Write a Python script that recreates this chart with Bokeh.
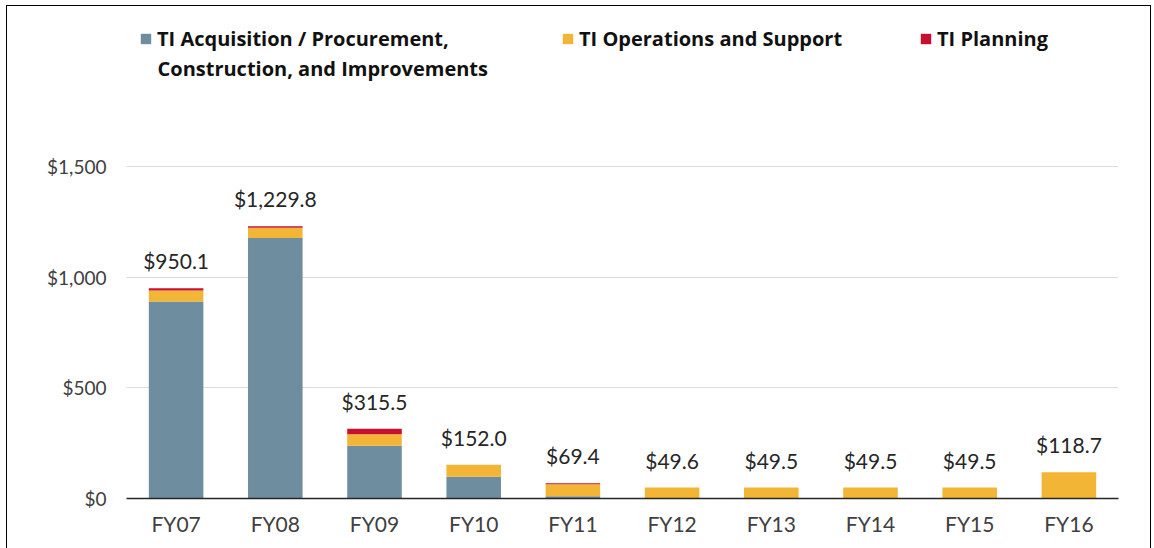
from bokeh.plotting import figure
from bokeh.models import (ColumnDataSource, FixedTicker, NumeralTickFormatter, Legend,
                          LegendItem, LabelSet, Label, Range1d)
from bokeh.core.properties import value
from bokeh.embed import file_html
from bokeh.resources import INLINE

years = ["FY07", "FY08", "FY09", "FY10", "FY11", "FY12", "FY13", "FY14", "FY15", "FY16"]
acquisition = [890, 1177, 238, 98, 10, 0, 0, 0, 0, 0]
operations = [50, 46, 52, 54, 54, 49.6, 49.5, 49.5, 49.5, 118.7]
planning = [10.1, 6.8, 25.5, 0, 5.4, 0, 0, 0, 0, 0]
totals = [950.1, 1229.8, 315.5, 152.0, 69.4, 49.6, 49.5, 49.5, 49.5, 118.7]
y_ticks = [0, 500, 1000, 1500]

series = ["acq", "ops", "plan"]
legend_first_lines = ["TI Acquisition / Procurement,", "TI Operations and Support", "TI Planning"]
legend_second_line = "Construction, and Improvements"
colors = ["#6E8EA0", "#F2B535", "#C8102E"]

source = ColumnDataSource(dict(
    years=years, acq=acquisition, ops=operations, plan=planning,
    total=totals, label=[f"${v:,.1f}" for v in totals],
))

FONT = "Lato"
LEGEND_FONT = "Open Sans"

p = figure(x_range=years, y_range=Range1d(0, 2160), width=1143, height=542,
           output_backend="svg", toolbar_location=None,
           min_border_left=119, min_border_right=32, min_border_top=14, min_border_bottom=50)
p.margin = (6, 0, 0, 7)
p.outline_line_color = None
p.styles = {"outline": "1.5px solid #000000"}

renderers = p.vbar_stack(series, x="years", width=0.55, source=source, color=colors,
                         line_color=None)

labels = LabelSet(x="years", y="total", text="label", source=source, text_align="center",
                  text_baseline="alphabetic", y_offset=19, text_font=value(FONT),
                  text_font_size="21px", text_color="#262626")
p.add_layout(labels)

p.xgrid.grid_line_color = None
p.ygrid.ticker = FixedTicker(ticks=y_ticks)
p.ygrid.grid_line_color = "#B8B8B8"
p.ygrid.grid_line_dash = "1 1"
p.ygrid.grid_line_width = 1

p.yaxis.ticker = FixedTicker(ticks=y_ticks)
p.yaxis.formatter = NumeralTickFormatter(format="$0,0")
p.yaxis.axis_line_color = None
p.yaxis.major_tick_line_color = None
p.yaxis.minor_tick_line_color = None
p.yaxis.major_label_standoff = 14
p.yaxis.major_label_text_font = FONT
p.yaxis.major_label_text_font_size = "19px"
p.yaxis.major_label_text_color = "#404040"

p.xaxis.axis_line_color = "#262626"
p.xaxis.axis_line_width = 1.5
p.xaxis.major_tick_line_color = None
p.xaxis.minor_tick_line_color = None
p.xaxis.major_label_standoff = 6
p.xaxis.major_label_text_font = FONT
p.xaxis.major_label_text_font_size = "21px"
p.xaxis.major_label_text_color = "#404040"

p.x_range.range_padding = 0

legend_x = [13, 435, 793]
for lx, name, r in zip(legend_x, legend_first_lines, renderers):
    lg = Legend(items=[LegendItem(label=name, renderers=[r])],
                orientation="horizontal", location=(lx, 446), margin=0, padding=0,
                glyph_width=13, glyph_height=13, label_standoff=5,
                label_text_font=LEGEND_FONT, label_text_font_style="bold",
                label_text_font_size="20px", label_text_color="#111111",
                border_line_color=None, background_fill_alpha=0)
    p.add_layout(lg, "center")

p.add_layout(Label(x=31, y=430, x_units="screen", y_units="screen", text=legend_second_line,
                   text_font=LEGEND_FONT, text_font_style="bold", text_font_size="20px",
                   text_color="#111111", text_baseline="alphabetic"))

open("out.html", "w").write(file_html(p, INLINE))
